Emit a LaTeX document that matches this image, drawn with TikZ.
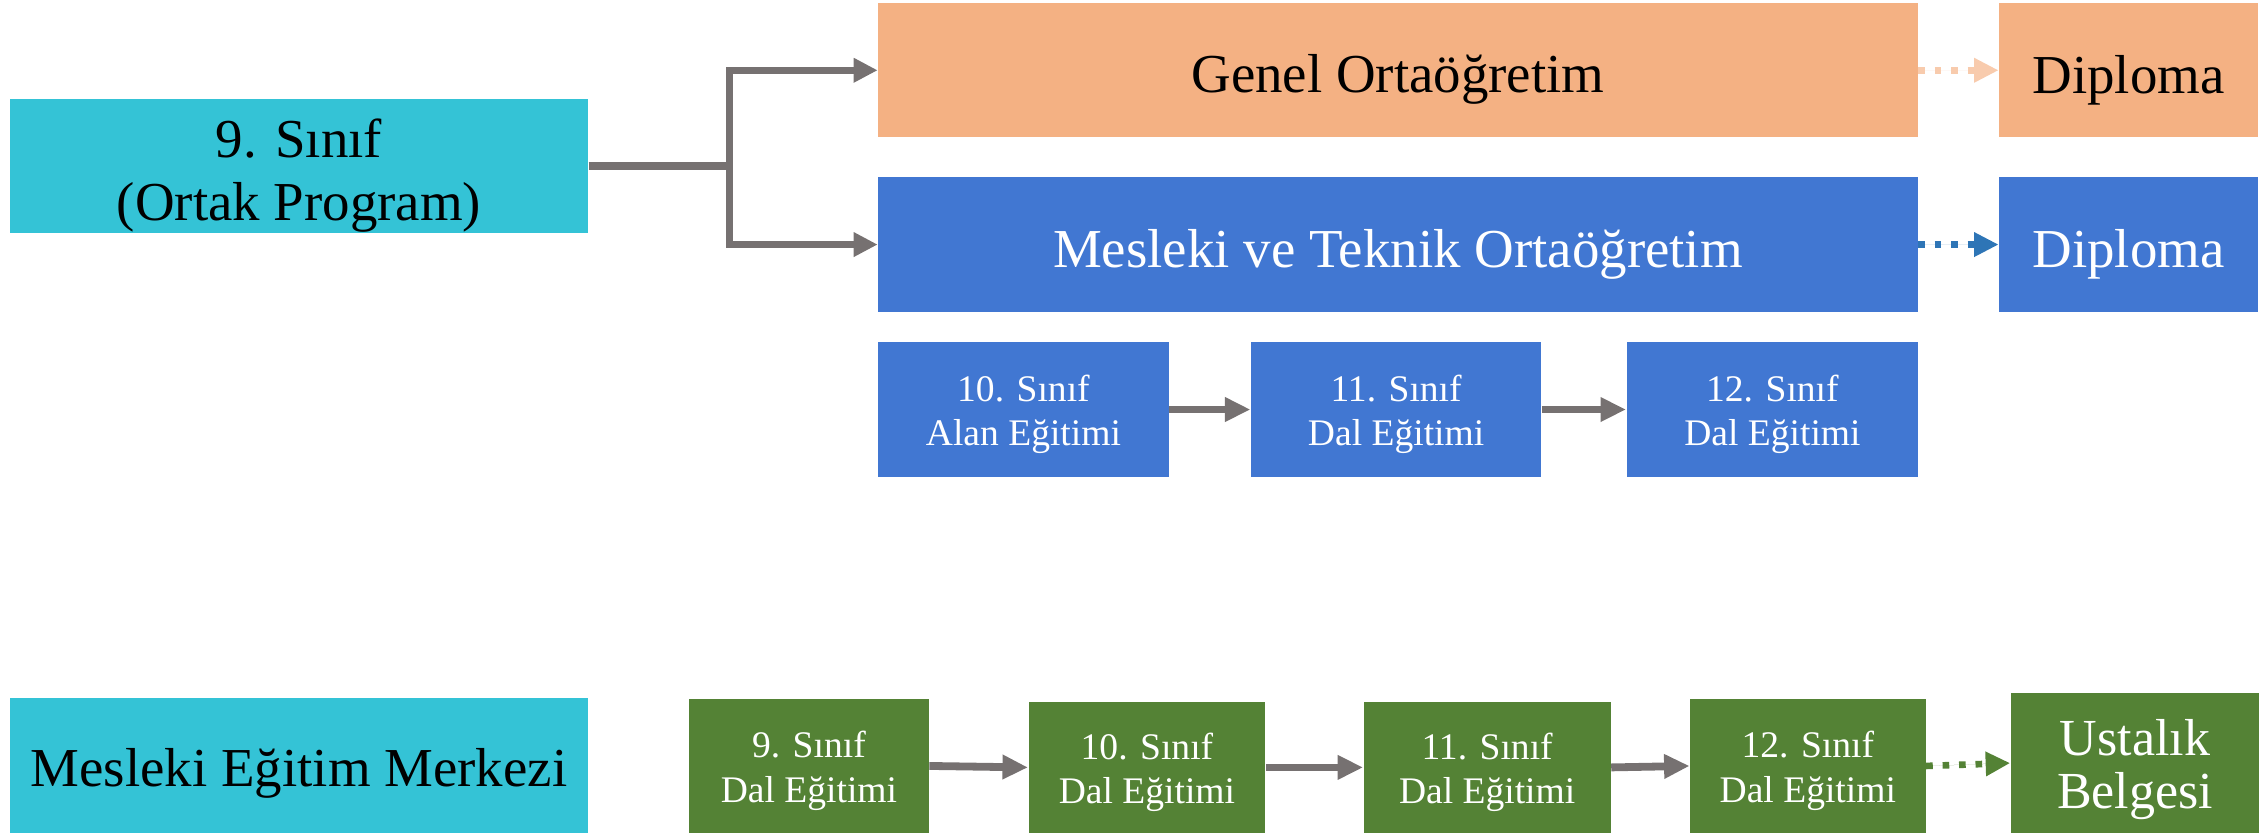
\documentclass[tikz,border=0pt]{standalone}
\usepackage{fontspec}
\setmainfont{Liberation Serif}
\usetikzlibrary{arrows.meta}
\definecolor{cyanbox}{HTML}{34C3D6}
\definecolor{orangebox}{HTML}{F4B183}
\definecolor{bluebox}{HTML}{4177D2}
\definecolor{greenbox}{HTML}{548235}
\definecolor{grayline}{HTML}{767171}
\definecolor{orangedot}{HTML}{F8CBAD}
\definecolor{bluedot}{HTML}{2E75B6}
\tikzset{
  boxbase/.style={rectangle, inner sep=0pt},
  txtbase/.style={inner sep=0pt, align=center},
  bigtxt/.style={txtbase, font=\fontsize{19}{22}\selectfont, yshift=-3.3pt},
  smalltxt/.style={txtbase, font=\fontsize{13}{15.5}\selectfont, yshift=-1.7pt},
  usttxt/.style={txtbase, font=\fontsize{18}{18.5}\selectfont, yshift=-2.2pt},
  cyanb/.style={boxbase, fill=cyanbox},
  orangeb/.style={boxbase, fill=orangebox},
  blueb/.style={boxbase, fill=bluebox},
  greenb/.style={boxbase, fill=greenbox},
  grayarrow/.style={draw=grayline, line width=2.7pt, -{Triangle[length=8.8pt,width=8pt]}},
  dotarrow/.style={line width=2.3pt, dash pattern=on 2.3pt off 3.4pt, -{Triangle[length=8.5pt,width=8pt]}},
}
\begin{document}
\begin{tikzpicture}[x=0.5pt, y=-0.5pt]
\useasboundingbox (0,0) rectangle (1568,577.4);
% left column
\node[cyanb, minimum width=200pt, minimum height=46.5pt] (nine) at (207,115) {};
\node[bigtxt, text=black] (nine-t) at (nine) {9. Sınıf\\(Ortak Program)};
\node[cyanb, minimum width=200pt, minimum height=46.75pt] (mem) at (207,529.75) {};
\node[bigtxt, text=black, yshift=0.6pt] (mem-t) at (mem) {Mesleki Eğitim Merkezi};
% top rows
\node[orangeb, minimum width=359.75pt, minimum height=46.35pt] (genel) at (967.75,48.65) {};
\node[bigtxt, text=black] (genel-t) at (genel) {Genel Ortaöğretim};
\node[orangeb, minimum width=89.5pt, minimum height=46.35pt] (dip1) at (1473.5,48.65) {};
\node[bigtxt, text=black] (dip1-t) at (dip1) {Diploma};
\node[blueb, minimum width=359.75pt, minimum height=46.5pt] (mtek) at (967.75,169.3) {};
\node[bigtxt, text=white] (mtek-t) at (mtek) {Mesleki ve Teknik Ortaöğretim};
\node[blueb, minimum width=89.5pt, minimum height=46.5pt] (dip2) at (1473.5,169.3) {};
\node[bigtxt, text=white] (dip2-t) at (dip2) {Diploma};
% blue small boxes
\node[blueb, minimum width=100.5pt, minimum height=46.5pt] (b1) at (708.5,283.5) {};
\node[smalltxt, text=white] (b1-t) at (b1) {10. Sınıf\\Alan Eğitimi};
\node[blueb, minimum width=100.5pt, minimum height=46.5pt] (b2) at (966.5,283.5) {};
\node[smalltxt, text=white] (b2-t) at (b2) {11. Sınıf\\Dal Eğitimi};
\node[blueb, minimum width=101pt, minimum height=46.5pt] (b3) at (1227,283.5) {};
\node[smalltxt, text=white] (b3-t) at (b3) {12. Sınıf\\Dal Eğitimi};
% green row
\node[greenb, minimum width=83pt, minimum height=46.25pt] (g1) at (560,530.25) {};
\node[smalltxt, text=white] (g1-t) at (g1) {9. Sınıf\\Dal Eğitimi};
\node[greenb, minimum width=82pt, minimum height=45.25pt] (g2) at (794,531.25) {};
\node[smalltxt, text=white] (g2-t) at (g2) {10. Sınıf\\Dal Eğitimi};
\node[greenb, minimum width=85.5pt, minimum height=45.25pt] (g3) at (1029.5,531.25) {};
\node[smalltxt, text=white] (g3-t) at (g3) {11. Sınıf\\Dal Eğitimi};
\node[greenb, minimum width=81.5pt, minimum height=46.25pt] (g4) at (1251.5,530.25) {};
\node[smalltxt, text=white] (g4-t) at (g4) {12. Sınıf\\Dal Eğitimi};
\node[greenb, minimum width=86pt, minimum height=48.25pt] (g5) at (1478,528.25) {};
\node[usttxt, text=white] (g5-t) at (g5) {Ustalık\\Belgesi};
% branch connector
\coordinate (br) at (505,115);
\draw[draw=grayline, line width=2.6pt] (nine.east) -- (br);
\draw[draw=grayline, line width=2.6pt, line join=miter,
      {Triangle[length=8.3pt,width=8pt]}-{Triangle[length=8.3pt,width=8pt]}]
      (genel.west) -| (br) |- (mtek.west);
% dotted arrows
\draw[dotarrow, draw=orangedot, fill=orangedot] (genel.east) -- (dip1.west);
\draw[dotarrow, draw=bluedot, fill=bluedot] (mtek.east) -- (dip2.west);
\draw[dotarrow, draw=greenbox, fill=greenbox] (g4.east) -- (g5.west);
% gray arrows
\draw[grayarrow] (b1.east) -- (b2.west);
\draw[grayarrow] (b2.east) -- (b3.west);
\draw[grayarrow] (g1.east) -- (g2.west);
\draw[grayarrow] (g2.east) -- (g3.west);
\draw[grayarrow] (g3.east) -- (g4.west);
\end{tikzpicture}
\end{document}
